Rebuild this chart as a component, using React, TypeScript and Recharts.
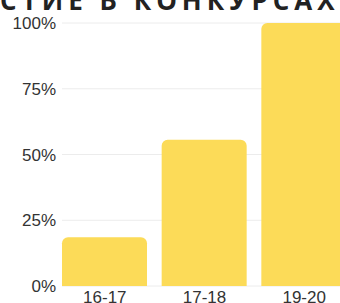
import React from 'react';
import { BarChart, Bar, XAxis, YAxis, CartesianGrid } from 'recharts';

// age groups and share of participants, %
const ageGroups = ['16-17', '17-18', '19-20'];
const shares = [18.5, 55.6, 100];
const yTicks = [0, 25, 50, 75, 100];

const data = ageGroups.map((g, i) => ({ group: g, share: shares[i] }));

const BAR_COLOR = '#fcdb58';
const TICK_FONT = '"Liberation Sans", Arial, sans-serif';

const App: React.FC = () => {
  return (
    <div
      style={{
        position: 'absolute',
        left: 0,
        top: 0,
        width: 340,
        height: 303,
        overflow: 'hidden',
        background: '#fff',
      }}
    >
      {/* title is cut by the top edge, like in the source picture */}
      <div
        style={{
          position: 'absolute',
          left: -69,
          top: -13,
          whiteSpace: 'nowrap',
          fontFamily: '"Open Sans", sans-serif',
          fontWeight: 700,
          fontSize: 26,
          letterSpacing: 5,
          color: '#222',
          lineHeight: '26px',
        }}
      >
        УЧАСТИЕ В КОНКУРСАХ
      </div>
      <BarChart
        width={354}
        height={303}
        data={data}
        margin={{ top: 23, right: 0, bottom: 0, left: 0 }}
        barSize={85}
        style={{ position: 'absolute', left: 0, top: 0 }}
      >
        <CartesianGrid vertical={false} x={62} width={300} stroke="#ececec" />
        <XAxis
          dataKey="group"
          height={17}
          axisLine={false}
          tickLine={false}
          tickSize={0}
          tickMargin={0}
          tick={{ fill: '#333', fontSize: 17, fontFamily: TICK_FONT, dy: 5 }}
        />
        <YAxis
          width={55}
          domain={[0, 100]}
          ticks={yTicks}
          axisLine={false}
          tickLine={false}
          tickFormatter={(v: number) => `${v}%`}
          tick={{ fill: '#333', fontSize: 17, fontFamily: TICK_FONT, dx: 9 }}
        />
        <Bar dataKey="share" fill={BAR_COLOR} radius={[6, 6, 0, 0]} isAnimationActive={false} />
      </BarChart>
    </div>
  );
};

export default App;
